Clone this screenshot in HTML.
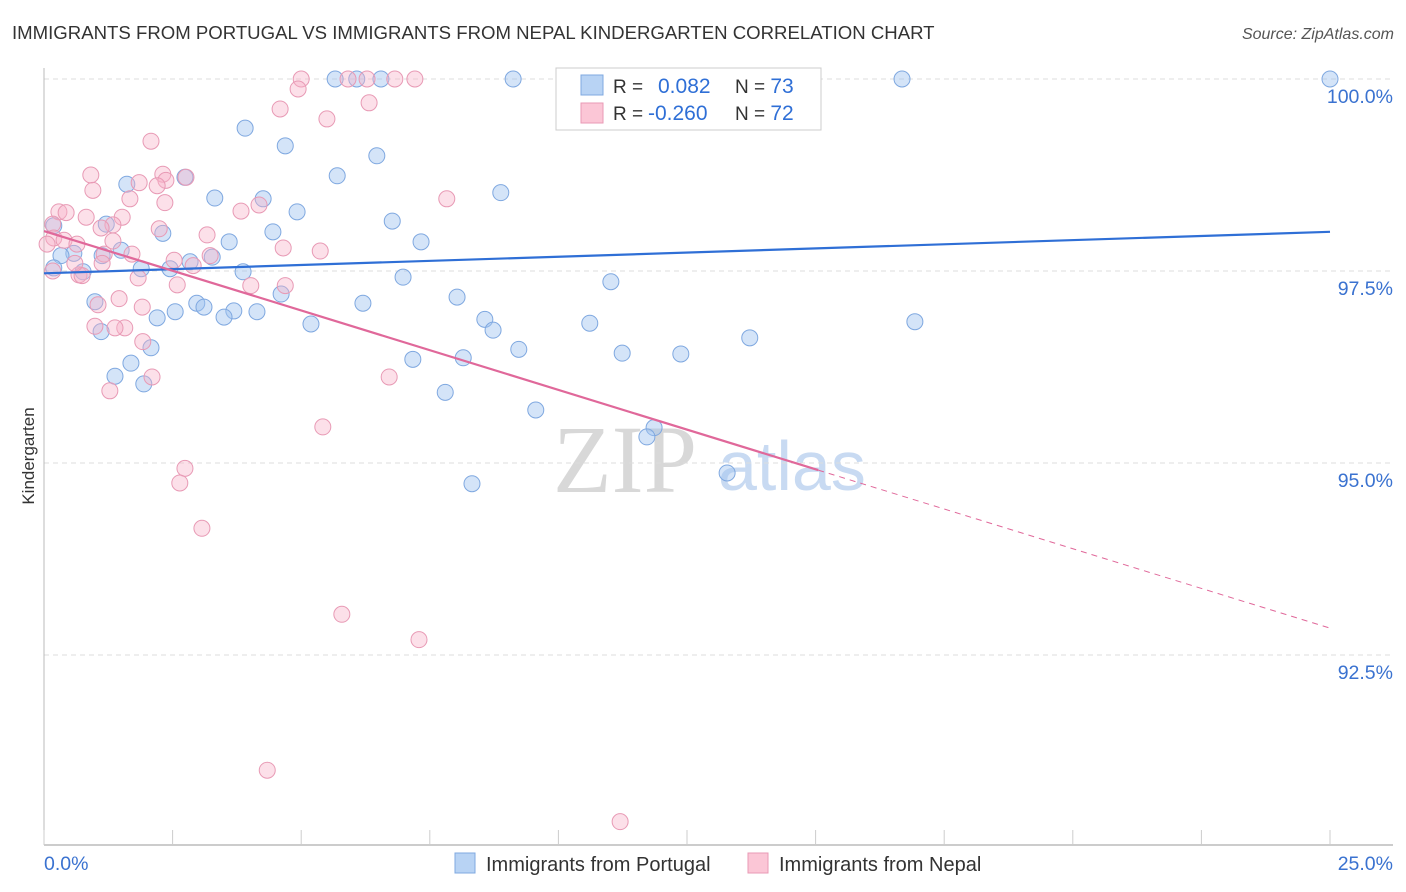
<!DOCTYPE html>
<html><head><meta charset="utf-8"><style>
body{margin:0;background:#fff;font-family:"Liberation Sans",sans-serif}
#wrap{position:relative;width:1406px;height:892px;overflow:hidden}
</style></head><body>
<div id="wrap">
<svg id="svg" width="1406" height="892" xmlns="http://www.w3.org/2000/svg">
<text x="12" y="39" font-size="18.6" fill="#333">IMMIGRANTS FROM PORTUGAL VS IMMIGRANTS FROM NEPAL KINDERGARTEN CORRELATION CHART</text>
<text x="1394" y="39" font-size="16" fill="#555" font-style="italic" text-anchor="end">Source: ZipAtlas.com</text>
<text transform="translate(34,456) rotate(-90)" font-size="17" fill="#333" text-anchor="middle">Kindergarten</text>
<g>
<text x="553" y="492" font-size="96" font-family="Liberation Serif,serif" fill="#d8d8d8">ZIP</text>
<text x="718" y="490" font-size="70" fill="#c8daf2">atlas</text>
</g>
<g id="grid"></g><g id="axes"></g><g id="pts"></g><g id="lines"></g>
<g>
<rect x="556" y="68" width="265" height="62" fill="#fff" stroke="#ccc"/>
<rect x="581" y="75" width="22" height="20" fill="#b8d3f4" stroke="#7fa8e0"/>
<rect x="581" y="103" width="22" height="20" fill="#fbc6d6" stroke="#e89ab5"/>
<text x="613" y="93" font-size="19" fill="#333">R = <tspan fill="#2f6fd6" x="658" font-size="21">0.082</tspan><tspan fill="#333" x="735">N = </tspan><tspan fill="#2f6fd6" font-size="21">73</tspan></text>
<text x="613" y="120" font-size="19" fill="#333">R = <tspan fill="#2f6fd6" x="648" font-size="21">-0.260</tspan><tspan fill="#333" x="735">N = </tspan><tspan fill="#2f6fd6" font-size="21">72</tspan></text>
</g>
<g>
<rect x="455" y="853" width="20" height="20" fill="#b8d3f4" stroke="#7fa8e0"/>
<text x="486" y="871" font-size="20" fill="#333">Immigrants from Portugal</text>
<rect x="748" y="853" width="20" height="20" fill="#fbc6d6" stroke="#e89ab5"/>
<text x="779" y="871" font-size="20" fill="#333">Immigrants from Nepal</text>
</g>
</svg>
</div>
<script>
const blueX=[5.66,6.08,6.55,9.12,16.68,25.0,11.06,13.92,3.91,4.69,6.47,5.70,2.74,1.61,8.88,3.32,4.26,4.92,6.77,1.21,0.19,4.45,2.31,7.33,3.60,1.50,0.58,0.33,1.13,3.27,2.84,1.89,2.45,0.76,3.87,6.98,11.02,4.61,8.03,6.20,0.99,2.97,3.11,2.55,3.69,4.14,3.50,2.20,8.57,5.19,10.61,16.93,8.73,1.11,13.72,2.08,9.23,11.24,12.38,8.15,7.17,1.69,1.38,1.94,7.80,9.56,11.86,11.72,13.28,8.32,0.19];
const blueY=[100,100,100,100,100,100,100,100,99.36,99.13,99.00,98.74,98.72,98.63,98.52,98.45,98.44,98.27,98.15,98.11,98.09,98.01,97.99,97.88,97.88,97.77,97.73,97.70,97.70,97.68,97.62,97.53,97.53,97.49,97.49,97.42,97.36,97.20,97.16,97.08,97.10,97.08,97.03,96.97,96.98,96.97,96.90,96.89,96.87,96.81,96.82,96.84,96.73,96.71,96.63,96.50,96.48,96.43,96.42,96.37,96.35,96.30,96.13,96.03,95.92,95.69,95.46,95.34,94.87,94.73,97.54];
const pinkX=[5.00,6.28,6.82,7.21,5.91,4.94,4.59,6.32,5.50,2.08,0.91,2.31,2.76,2.37,2.20,1.85,0.95,1.67,2.35,7.83,4.18,3.83,0.29,0.82,1.52,0.43,0.17,1.34,1.11,2.24,3.17,0.19,0.39,0.64,1.34,4.65,5.37,1.17,1.71,2.90,1.13,2.53,0.68,0.74,0.17,1.83,2.59,4.69,4.02,1.46,1.91,1.05,0.99,1.57,1.38,1.92,2.10,6.71,1.28,5.42,2.74,2.64,3.07,5.79,7.29,4.34,11.20,0.06,0.60,3.23];
const pinkY=[100,100,100,100,100,99.87,99.61,99.69,99.48,99.19,98.75,98.76,98.72,98.68,98.61,98.65,98.55,98.44,98.39,98.44,98.36,98.28,98.27,98.20,98.20,98.26,98.11,98.10,98.06,98.05,97.97,97.93,97.90,97.85,97.89,97.80,97.76,97.72,97.72,97.57,97.60,97.64,97.45,97.44,97.50,97.41,97.32,97.31,97.31,97.14,97.03,97.06,96.78,96.76,96.76,96.58,96.12,96.12,95.94,95.47,94.93,94.74,94.15,93.03,92.70,91.00,90.33,97.85,97.60,97.70];
const blueTrend=[97.47,98.01];
const pinkTrend=[98.02,92.85];
const pinkSolidEnd=15.05;
const yTicks=[100,97.5,95,92.5];
const yTickLabels=["100.0%","97.5%","95.0%","92.5%"];
const xTicks=[0,2.5,5,7.5,10,12.5,15,17.5,20,22.5,25];
const xLabels=["0.0%","25.0%"];
const NS="http://www.w3.org/2000/svg";
const sx=v=>44+v*51.44, sy=v=>79+(100-v)*76.8;
function mk(tag,at,parent){const e=document.createElementNS(NS,tag);for(const k in at)e.setAttribute(k,at[k]);document.getElementById(parent).appendChild(e);return e;}
yTicks.forEach((t,i)=>{
 const l=mk('line',{x1:44,x2:1393,y1:sy(t),y2:sy(t),stroke:'#ddd','stroke-dasharray':'5,4'},'grid');
 
 
 const tx=mk('text',{x:1393,y:sy(t)+24,'font-size':19.5,fill:'#3a72d0','text-anchor':'end'},'grid');
 tx.textContent=yTickLabels[i];
 
 
});
let ax=mk('line',{x1:44,x2:44,y1:68,y2:845,stroke:'#bbb'},'axes');


ax=mk('line',{x1:44,x2:1393,y1:845,y2:845,stroke:'#bbb','stroke-width':1.5},'axes');


xTicks.forEach(t=>{const l=mk('line',{x1:sx(t),x2:sx(t),y1:830,y2:845,stroke:'#ccc'},'axes');
 
 });
[[0,'start'],[25,'end']].forEach((p,i)=>{const tx=mk('text',{x:i?1393:44,y:870,'font-size':19.5,fill:'#3a72d0','text-anchor':p[1]},'axes');
 tx.textContent=xLabels[i];
 
 });
blueX.forEach((x,i)=>{const c=mk('circle',{cx:sx(x),cy:sy(blueY[i]),r:8,fill:'rgba(160,196,240,0.45)',stroke:'#7fa8e0','stroke-width':1},'pts');
 
 });
pinkX.forEach((x,i)=>{const c=mk('circle',{cx:sx(x),cy:sy(pinkY[i]),r:8,fill:'rgba(247,178,200,0.4)',stroke:'#e89ab5','stroke-width':1},'pts');
 
 });
let ln=mk('line',{x1:sx(0),y1:sy(blueTrend[0]),x2:sx(25),y2:sy(blueTrend[1]),stroke:'#2f6fd6','stroke-width':2.2},'lines');


const pe=pinkTrend[0]+(pinkTrend[1]-pinkTrend[0])*pinkSolidEnd/25;
ln=mk('line',{x1:sx(0),y1:sy(pinkTrend[0]),x2:sx(pinkSolidEnd),y2:sy(pe),stroke:'#e0689a','stroke-width':2.2},'lines');


ln=mk('line',{x1:sx(pinkSolidEnd),y1:sy(pe),x2:sx(25),y2:sy(pinkTrend[1]),stroke:'#e0689a','stroke-width':1,'stroke-dasharray':'6,5'},'lines');


</script>
</body></html>
